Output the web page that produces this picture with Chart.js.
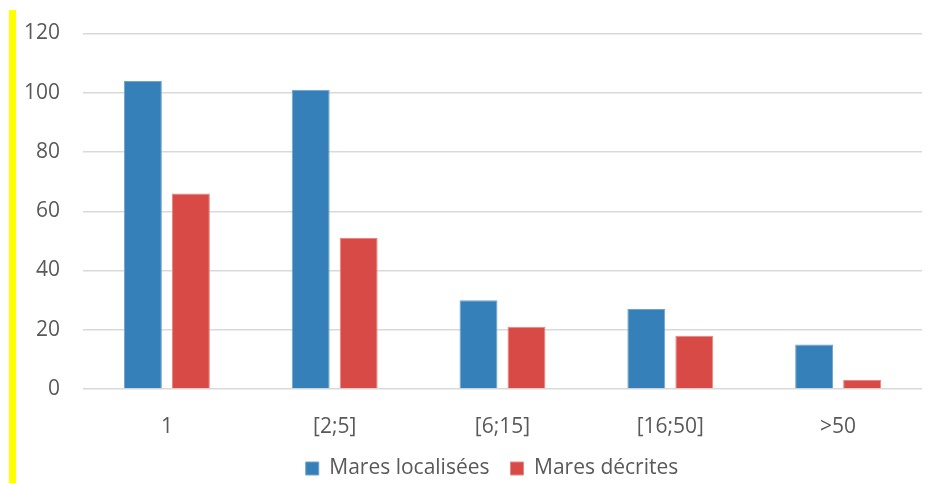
<!DOCTYPE html>
<html>
<head>
<meta charset="utf-8">
<script src="https://cdn.jsdelivr.net/npm/chart.js@4.4.1/dist/chart.umd.min.js"></script>
<style>
  html, body { margin: 0; padding: 0; background: #fff; }
  #wrap { position: relative; width: 932px; height: 483px; }
  #barre { position: absolute; left: 9px; top: 10px; width: 7px; height: 473px; background: #ffff00; }
</style>
</head>
<body>
<div id="wrap">
  <div id="barre"></div>
  <canvas id="graphe-mares" width="932" height="483"></canvas>
</div>
<script>
// Données
var classes = ["1", "[2;5]", "[6;15]", "[16;50]", ">50"];
var maresLocalisees = [104, 101, 30, 27, 15];
var maresDecrites = [66, 51, 21, 18, 3];
var graduations = [0, 20, 40, 60, 80, 100, 120];

var police = "'Open Sans', 'Noto Sans', sans-serif";

// decale la legende vers la droite (centree sur la zone du graphique)
var decalageLegende = {
  id: 'decalageLegende',
  afterUpdate: function(chart) {
    var leg = chart.legend;
    if (!leg) return;
    leg.left += 31;
    leg.right += 31;
  }
};

var config = {
  type: 'bar',
  data: {
    labels: classes,
    datasets: [{
      label: 'Mares localisées',
      data: maresLocalisees,
      backgroundColor: '#3580b9',
      borderColor: '#6fa3cf',
      borderWidth: 1,
      barPercentage: 0.79,
      categoryPercentage: 0.572
    }, {
      label: 'Mares décrites',
      data: maresDecrites,
      backgroundColor: '#d84a46',
      borderColor: '#e88683',
      borderWidth: 1,
      barPercentage: 0.79,
      categoryPercentage: 0.572
    }]
  },
  plugins: [decalageLegende],
  options: {
    responsive: false,
    animation: false,
    layout: { padding: { left: 0, right: 10, top: 27, bottom: -6 } },
    plugins: {
      tooltip: { enabled: false },
      legend: {
        position: 'bottom',
        labels: {
          boxWidth: 13,
          boxHeight: 13,
          padding: 21,
          color: '#595959',
          font: { family: police, size: 21 }
        }
      }
    },
    scales: {
      x: {
        afterFit: function(scale) { scale.height = 48; },
        grid: { display: false },
        border: { display: false },
        ticks: {
          color: '#595959',
          padding: 17,
          font: { family: police, size: 21 }
        }
      },
      y: {
        min: 0,
        max: 120,
        afterFit: function(scale) { scale.width = 83; },
        afterBuildTicks: function(scale) {
          scale.ticks = graduations.map(function(v) { return { value: v }; });
        },
        grid: { color: '#d9d9d9', lineWidth: 1.5, drawTicks: false },
        border: { display: false },
        ticks: {
          color: '#595959',
          padding: 23,
          font: { family: police, size: 21, lineHeight: 1 }
        }
      }
    }
  }
};

var ctx = document.getElementById("graphe-mares");
window.grapheMares = new Chart(ctx, config);
</script>
</body>
</html>
